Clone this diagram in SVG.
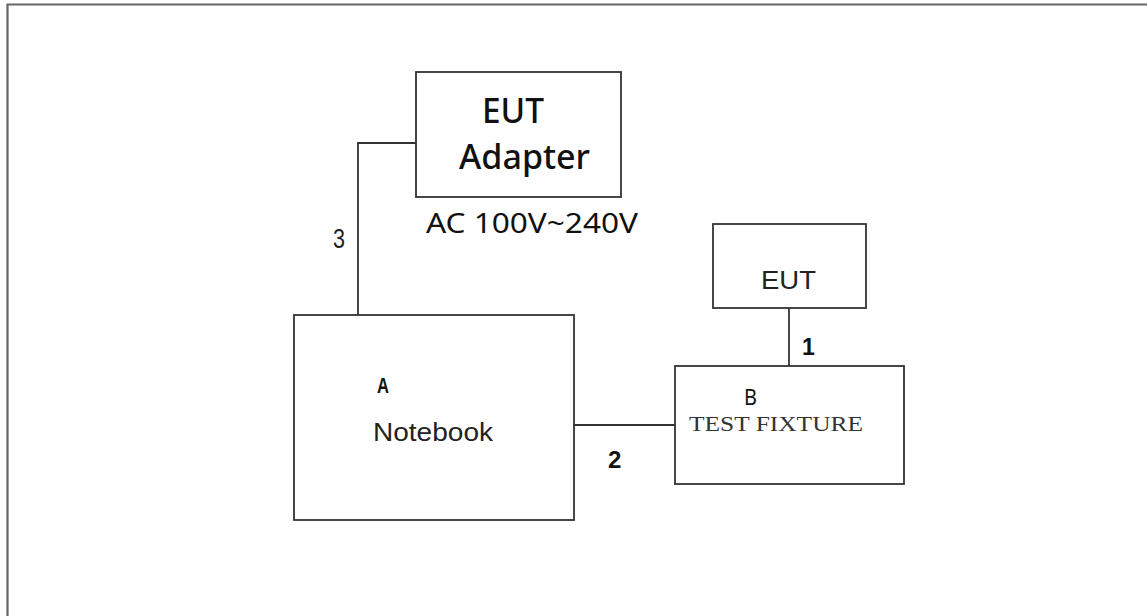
<svg xmlns="http://www.w3.org/2000/svg" width="1147" height="616" viewBox="0 0 1147 616">
<style>
.box{fill:#fff;stroke:#333;stroke-width:1.8}
.wire{fill:none;stroke:#333;stroke-width:1.8}
.sans{font-family:"Noto Sans","Open Sans",sans-serif;fill:#111}
.ar{font-family:"Liberation Sans",Arial,sans-serif;fill:#222}
.serif{font-family:"Liberation Serif","Times New Roman",serif;fill:#333}
.bold{font-family:"Liberation Sans",Arial,sans-serif;font-weight:bold;fill:#111}
</style>
<rect width="1147" height="616" fill="#fff"/>
<path d="M7.5 620 V4.5 H1150" fill="none" stroke="#666" stroke-width="2.2"/>
<g id="connectors">
<path class="wire" d="M416 143 H358 V315"/>
<path class="wire" d="M789 308 V366"/>
<path class="wire" d="M574 425 H675"/>
<text class="ar" x="333" y="248" font-size="28" textLength="12" lengthAdjust="spacingAndGlyphs">3</text>
<text class="bold" x="802" y="355" font-size="23">1</text>
<text class="bold" x="608" y="468" font-size="24">2</text>
</g>
<g id="adapter">
<rect class="box" x="416" y="72" width="205" height="125"/>
<text class="sans" x="482" y="123" font-size="35" font-weight="500" textLength="62" lengthAdjust="spacingAndGlyphs">EUT</text>
<text class="sans" x="459" y="169" font-size="35" font-weight="500" textLength="131" lengthAdjust="spacingAndGlyphs">Adapter</text>
<text class="sans" x="426" y="233" font-size="28" textLength="212" lengthAdjust="spacingAndGlyphs">AC 100V~240V</text>
</g>
<g id="eut">
<rect class="box" x="713" y="224" width="153" height="84"/>
<text class="ar" x="761" y="289" font-size="25" textLength="55" lengthAdjust="spacingAndGlyphs">EUT</text>
</g>
<g id="notebook">
<rect class="box" x="294" y="315" width="280" height="205"/>
<text class="bold" x="377" y="393" font-size="22" textLength="12" lengthAdjust="spacingAndGlyphs">A</text>
<text class="ar" x="373" y="441" font-size="26" textLength="120" lengthAdjust="spacingAndGlyphs">Notebook</text>
</g>
<g id="fixture">
<rect class="box" x="675" y="366" width="229" height="118"/>
<text class="sans" x="744" y="405" font-size="22" textLength="13" lengthAdjust="spacingAndGlyphs">B</text>
<text class="serif" x="689" y="431" font-size="22" textLength="174" lengthAdjust="spacingAndGlyphs">TEST FIXTURE</text>
</g>
</svg>
